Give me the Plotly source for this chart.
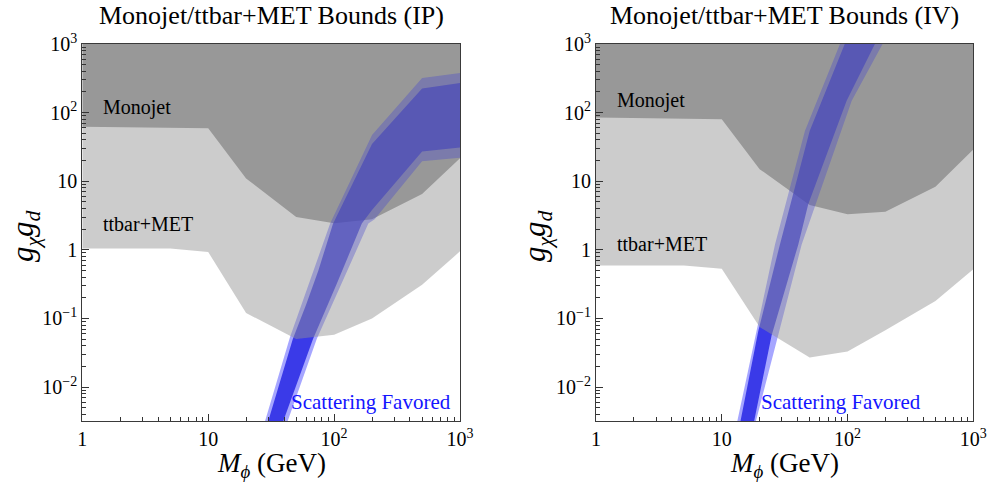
import numpy as np
import plotly.graph_objects as go

# ---------------- data ----------------
mass_grid = [1, 5, 10, 20, 50, 100, 200, 500, 1000]
mono_grid = [1, 10, 20, 50, 100, 200, 500, 1000]

# Panel IP
ip_ttbar_y = [1.05, 1.05, 0.93, 0.12, 0.05, 0.058, 0.10, 0.31, 0.95]
ip_mono_y = [62, 59, 11, 3.0, 2.45, 2.8, 6.5, 21.7]
ip_inner_up_x = [30, 47, 60, 75, 98, 200, 500, 1000]
ip_inner_up_y = [0.0032, 0.05, 0.16, 0.5, 2.4, 35, 225, 270]
ip_inner_lo_x = [39.5, 68, 105, 166, 200, 500, 1000]
ip_inner_lo_y = [0.0032, 0.05, 0.32, 2.41, 3.8, 27, 31]
ip_outer_up_x = [28.3, 44.6, 93, 200, 500, 1000]
ip_outer_up_y = [0.0032, 0.053, 2.41, 47, 320, 378]
ip_outer_lo_x = [42.8, 72.8, 187, 210, 500, 1000]
ip_outer_lo_y = [0.0032, 0.05, 2.41, 2.8, 19.5, 22]

# Panel IV
iv_ttbar_y = [0.59, 0.59, 0.53, 0.075, 0.027, 0.033, 0.067, 0.18, 0.52]
iv_mono_y = [85, 80, 15, 4.5, 3.3, 3.6, 8.3, 29]
iv_inner_up_x = [14.1, 19.5, 29, 37, 50, 95]
iv_inner_up_y = [0.0032, 0.065, 1.2, 6.5, 54, 1000]
iv_inner_lo_x = [18.1, 24.9, 40.6, 48.7, 98.4, 165]
iv_inner_lo_y = [0.0032, 0.0565, 1.2, 4.6, 149, 1000]
iv_outer_up_x = [13.3, 26.5, 45.8, 87]
iv_outer_up_y = [0.0032, 1.2, 54, 1000]
iv_outer_lo_x = [18.7, 43.2, 108, 190]
iv_outer_lo_y = [0.0032, 1.2, 149, 1000]

titles = ["Monojet/ttbar+MET Bounds (IP)", "Monojet/ttbar+MET Bounds (IV)"]
x_tickvals = [1, 10, 100, 1000]
x_ticktext = ["1", "10", "10<sup>2</sup>", "10<sup>3</sup>"]
y_tickvals = [0.01, 0.1, 1, 10, 100, 1000]
y_ticktext = ["10<sup>\u22122</sup>", "10<sup>\u22121</sup>", "1", "10", "10<sup>2</sup>", "10<sup>3</sup>"]

X_MIN, X_MAX = 1, 1000
Y_MIN, Y_MAX = 0.0032, 1000

# ---------------- styling ----------------
FONT = "Liberation Serif, Times New Roman, serif"
MONO_FILL = "rgb(158,158,158)"
OUTER_BLUE = "rgba(0,0,255,0.35)"
INNER_BLUE = "rgba(0,0,220,0.65)"
TTBAR_FILL = "rgba(147,147,147,0.472)"

fig = go.Figure()


def band(upx, upy, lox, loy):
    return list(upx) + list(lox)[::-1], list(upy) + list(loy)[::-1]


def region(bx, by):
    return list(bx) + [X_MAX, X_MIN], list(by) + [Y_MAX, Y_MAX]


def filled(x, y, xa, ya, color):
    return go.Scatter(x=x, y=y, xaxis=xa, yaxis=ya, mode="lines",
                      line=dict(width=0), fill="toself", fillcolor=color,
                      hoverinfo="skip", showlegend=False)


panels = [
    dict(xa="x", ya="y", ttbar=ip_ttbar_y, mono=ip_mono_y,
         iu=(ip_inner_up_x, ip_inner_up_y), il=(ip_inner_lo_x, ip_inner_lo_y),
         ou=(ip_outer_up_x, ip_outer_up_y), ol=(ip_outer_lo_x, ip_outer_lo_y)),
    dict(xa="x2", ya="y2", ttbar=iv_ttbar_y, mono=iv_mono_y,
         iu=(iv_inner_up_x, iv_inner_up_y), il=(iv_inner_lo_x, iv_inner_lo_y),
         ou=(iv_outer_up_x, iv_outer_up_y), ol=(iv_outer_lo_x, iv_outer_lo_y)),
]

for p in panels:
    rx, ry = region(mono_grid, p["mono"])
    fig.add_trace(filled(rx, ry, p["xa"], p["ya"], MONO_FILL))
    bx, by = band(p["ou"][0], p["ou"][1], p["ol"][0], p["ol"][1])
    fig.add_trace(filled(bx, by, p["xa"], p["ya"], OUTER_BLUE))
    bx, by = band(p["iu"][0], p["iu"][1], p["il"][0], p["il"][1])
    fig.add_trace(filled(bx, by, p["xa"], p["ya"], INNER_BLUE))
    rx, ry = region(mass_grid, p["ttbar"])
    fig.add_trace(filled(rx, ry, p["xa"], p["ya"], TTBAR_FILL))


def minor_vals(lo_exp, hi_exp):
    vals = []
    for e in range(lo_exp, hi_exp):
        for m in range(2, 10):
            vals.append(m * 10.0 ** e)
    return vals


axis_common = dict(
    type="log", showgrid=False, zeroline=False, showline=True, mirror=True,
    linecolor="#3a3a3a", linewidth=1.2, ticks="inside", ticklen=7, tickwidth=1,
    tickcolor="#333", tickfont=dict(family=FONT, size=20, color="black"),
    tickmode="array", automargin=False, layer="above traces",
    ticklabeloverflow="allow",
)

W, H = 987, 485
xdoms = [[82.3 / W, 460 / W], [596 / W, 973.3 / W]]
ydom = [(H - 421) / H, (H - 44) / H]

layout = dict(
    width=W, height=H, margin=dict(l=0, r=0, t=0, b=0),
    paper_bgcolor="white", plot_bgcolor="white", showlegend=False,
    font=dict(family=FONT, color="black"),
)
for i, (xn, yn) in enumerate([("xaxis", "yaxis"), ("xaxis2", "yaxis2")]):
    layout[xn] = dict(axis_common, domain=xdoms[i],
                      range=[np.log10(X_MIN), np.log10(X_MAX)],
                      tickvals=x_tickvals, ticktext=x_ticktext,
                      minor=dict(tickmode="array", tickvals=minor_vals(0, 3),
                                 ticks="inside", ticklen=4, tickcolor="#333", showgrid=False),
                      anchor="y" if i == 0 else "y2")
    layout[yn] = dict(axis_common, domain=ydom,
                      range=[np.log10(Y_MIN), np.log10(Y_MAX)],
                      tickvals=y_tickvals, ticktext=y_ticktext,
                      minor=dict(tickmode="array", tickvals=minor_vals(-3, 3),
                                 ticks="inside", ticklen=4, tickcolor="#333", showgrid=False),
                      anchor="x" if i == 0 else "x2")
fig.update_layout(**layout)

ann = []
for i, t in enumerate(titles):
    cx = (xdoms[i][0] + xdoms[i][1]) / 2
    ann.append(dict(text=t, xref="paper", yref="paper", x=cx, y=(H - 15) / H,
                    xanchor="center", yanchor="middle", showarrow=False,
                    font=dict(family=FONT, size=26, color="black")))
    ann.append(dict(text="<i>M</i><sub><i>\u03d5</i></sub> (GeV)", xref="paper", yref="paper",
                    x=cx, y=(H - 465) / H, xanchor="center", yanchor="middle",
                    showarrow=False, font=dict(family=FONT, size=27, color="black")))
    ann.append(dict(text="<i>g</i><sub><i>\u03c7</i></sub><i>g</i><sub><i>d</i></sub>",
                    xref="paper", yref="paper", textangle=-90,
                    x=(25 if i == 0 else 537) / W, y=(H - 236) / H,
                    xanchor="center", yanchor="middle", showarrow=False,
                    font=dict(family=FONT, size=31, color="black")))

label_pos = [
    dict(mono=(1.41, 119), ttbar=(1.41, 2.41), scat=(885, 0.006)),
    dict(mono=(1.42, 152), ttbar=(1.42, 1.23), scat=(395, 0.006)),
]
for i, lp in enumerate(label_pos):
    xr = "x" if i == 0 else "x2"
    yr = "y" if i == 0 else "y2"
    for key, txt in (("mono", "Monojet"), ("ttbar", "ttbar+MET")):
        ann.append(dict(text=txt, xref=xr, yref=yr, x=np.log10(lp[key][0]),
                        y=np.log10(lp[key][1]), xanchor="left", yanchor="middle",
                        showarrow=False, font=dict(family=FONT, size=20, color="black")))
    ann.append(dict(text="Scattering Favored", xref=xr, yref=yr, x=np.log10(lp["scat"][0]),
                    y=np.log10(lp["scat"][1]), xanchor="right", yanchor="middle",
                    showarrow=False, font=dict(family=FONT, size=21, color="rgb(20,20,255)")))

fig.update_layout(annotations=ann)
fig.write_html("out.html", config={"displayModeBar": False},
               post_script="document.body.style.margin='0px';")
